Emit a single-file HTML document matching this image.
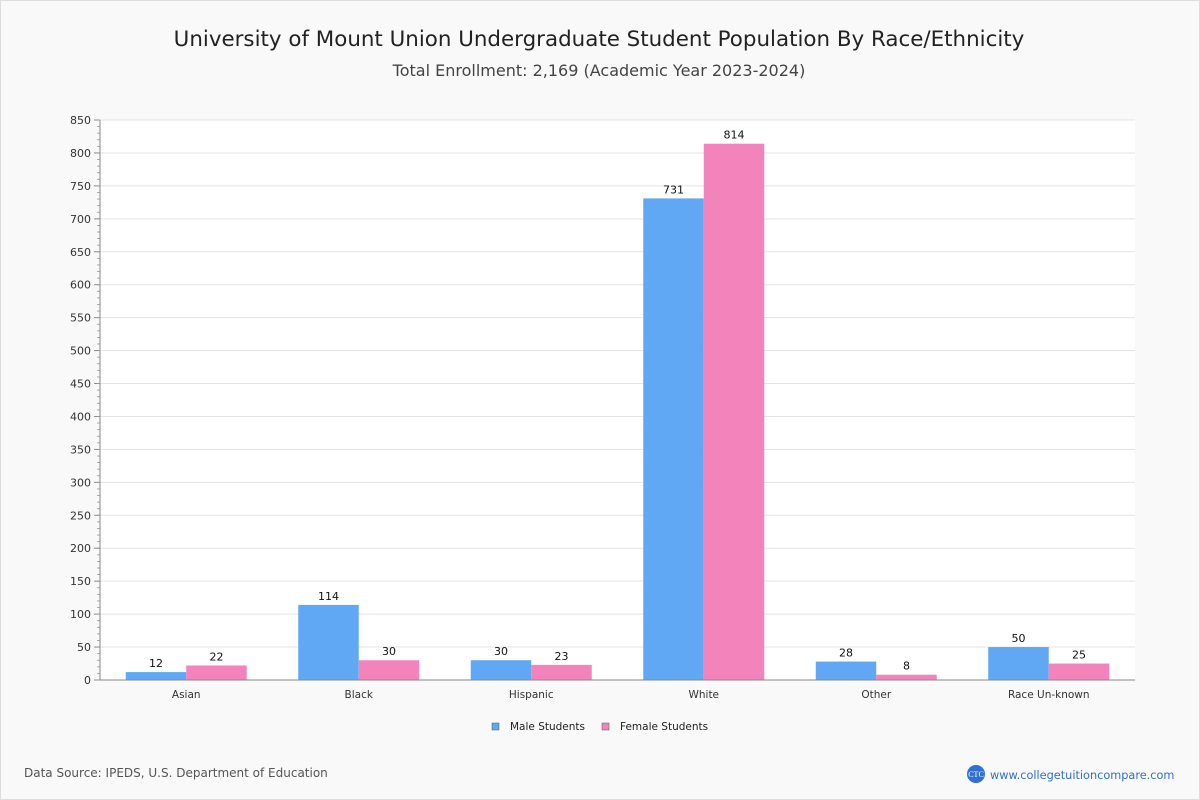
<!DOCTYPE html>
<html><head><meta charset="utf-8"><style>
body{margin:0;width:1200px;height:800px;background:#f9f9f9;font-family:"DejaVu Sans","Liberation Sans",sans-serif;overflow:hidden}
#frame{position:absolute;left:0;top:0;width:1198px;height:798px;border:1px solid #ddd;background:#f9f9f9}
</style></head><body>
<div id="frame"></div>
<svg id="c" width="1200" height="800" style="position:absolute;left:0;top:0">
<text x="599" y="46" text-anchor="middle" font-size="21.4" fill="#222">University of Mount Union Undergraduate Student Population By Race/Ethnicity</text>
<text x="599" y="76" text-anchor="middle" font-size="16" fill="#444">Total Enrollment: 2,169 (Academic Year 2023-2024)</text>
<rect x="100" y="120" width="1035" height="560" fill="#fff"/>
<g id="grid"></g><g id="bars"></g><g id="axes"></g>
<g>
<rect x="492" y="723" width="7" height="7" fill="#60a8f4" stroke="#555" stroke-width="0.5"/>
<text x="510" y="730" font-size="10.5" fill="#222">Male Students</text>
<rect x="602" y="723" width="7" height="7" fill="#f383bb" stroke="#555" stroke-width="0.5"/>
<text x="620" y="730" font-size="10.5" fill="#222">Female Students</text>
</g>
<text x="24" y="777" font-size="12" fill="#555">Data Source: IPEDS, U.S. Department of Education</text>
<circle cx="976" cy="774" r="9" fill="#2f6fd6"/>
<text x="976" y="777" text-anchor="middle" font-size="8" fill="#fff" font-family="Liberation Serif,serif">CTC</text>
<text x="990" y="779" font-size="11.3" fill="#2f6fd6">www.collegetuitioncompare.com</text>
</svg>
<script>
const categories=["Asian","Black","Hispanic","White","Other","Race Un-known"];
const male=[12,114,30,731,28,50];
const female=[22,30,23,814,8,25];
const yTicks=[0,50,100,150,200,250,300,350,400,450,500,550,600,650,700,750,800,850];
const NS="http://www.w3.org/2000/svg";
const X0=100,W=1035,Y0=680,H=560,YMAX=850;
const y=v=>Y0-v/YMAX*H;
const gw=W/categories.length;
const xc=i=>X0+gw*(i+0.5);
function mk(p,t,a){const e=document.createElementNS(NS,t);for(const k in a)e.setAttribute(k,a[k]);p.appendChild(e);return e;}
const grid=document.getElementById('grid'),bars=document.getElementById('bars'),axes=document.getElementById('axes');
yTicks.forEach(v=>{
 if(v>0){const l=mk(grid,'line',{x1:X0,x2:X0+W,y1:y(v),y2:y(v),stroke:'#e3e3e3'});
 
 }
 const t=mk(axes,'text',{x:91,y:y(v)+4,'text-anchor':'end','font-size':11,fill:'#333'});t.textContent=v;
 
 
 mk(axes,'line',{x1:94,x2:100,y1:y(v),y2:y(v),stroke:'#888'});
});
for(let v=0;v<=YMAX;v+=10){mk(axes,'line',{x1:97,x2:100,y1:y(v),y2:y(v),stroke:'#999','stroke-width':0.8});}
mk(axes,'line',{x1:X0,x2:X0,y1:120,y2:Y0,stroke:'#888'});
mk(axes,'line',{x1:X0,x2:X0+W,y1:Y0,y2:Y0,stroke:'#888'});
const bw=60.5;
categories.forEach((c,i)=>{
 [[male[i],'#60a8f4',-bw,'male'],[female[i],'#f383bb',0,'female']].forEach(([v,col,off,s])=>{
  const r=mk(bars,'rect',{x:xc(i)+off,y:y(v),width:bw,height:Y0-y(v),fill:col});
  
  
  const t=mk(bars,'text',{x:xc(i)+off+bw/2,y:y(v)-5,'text-anchor':'middle','font-size':11,fill:'#111'});t.textContent=v;
  
  
 });
 const t=mk(axes,'text',{x:xc(i),y:698,'text-anchor':'middle','font-size':10.5,fill:'#333'});t.textContent=c;
 
 
});
</script>
</body></html>
